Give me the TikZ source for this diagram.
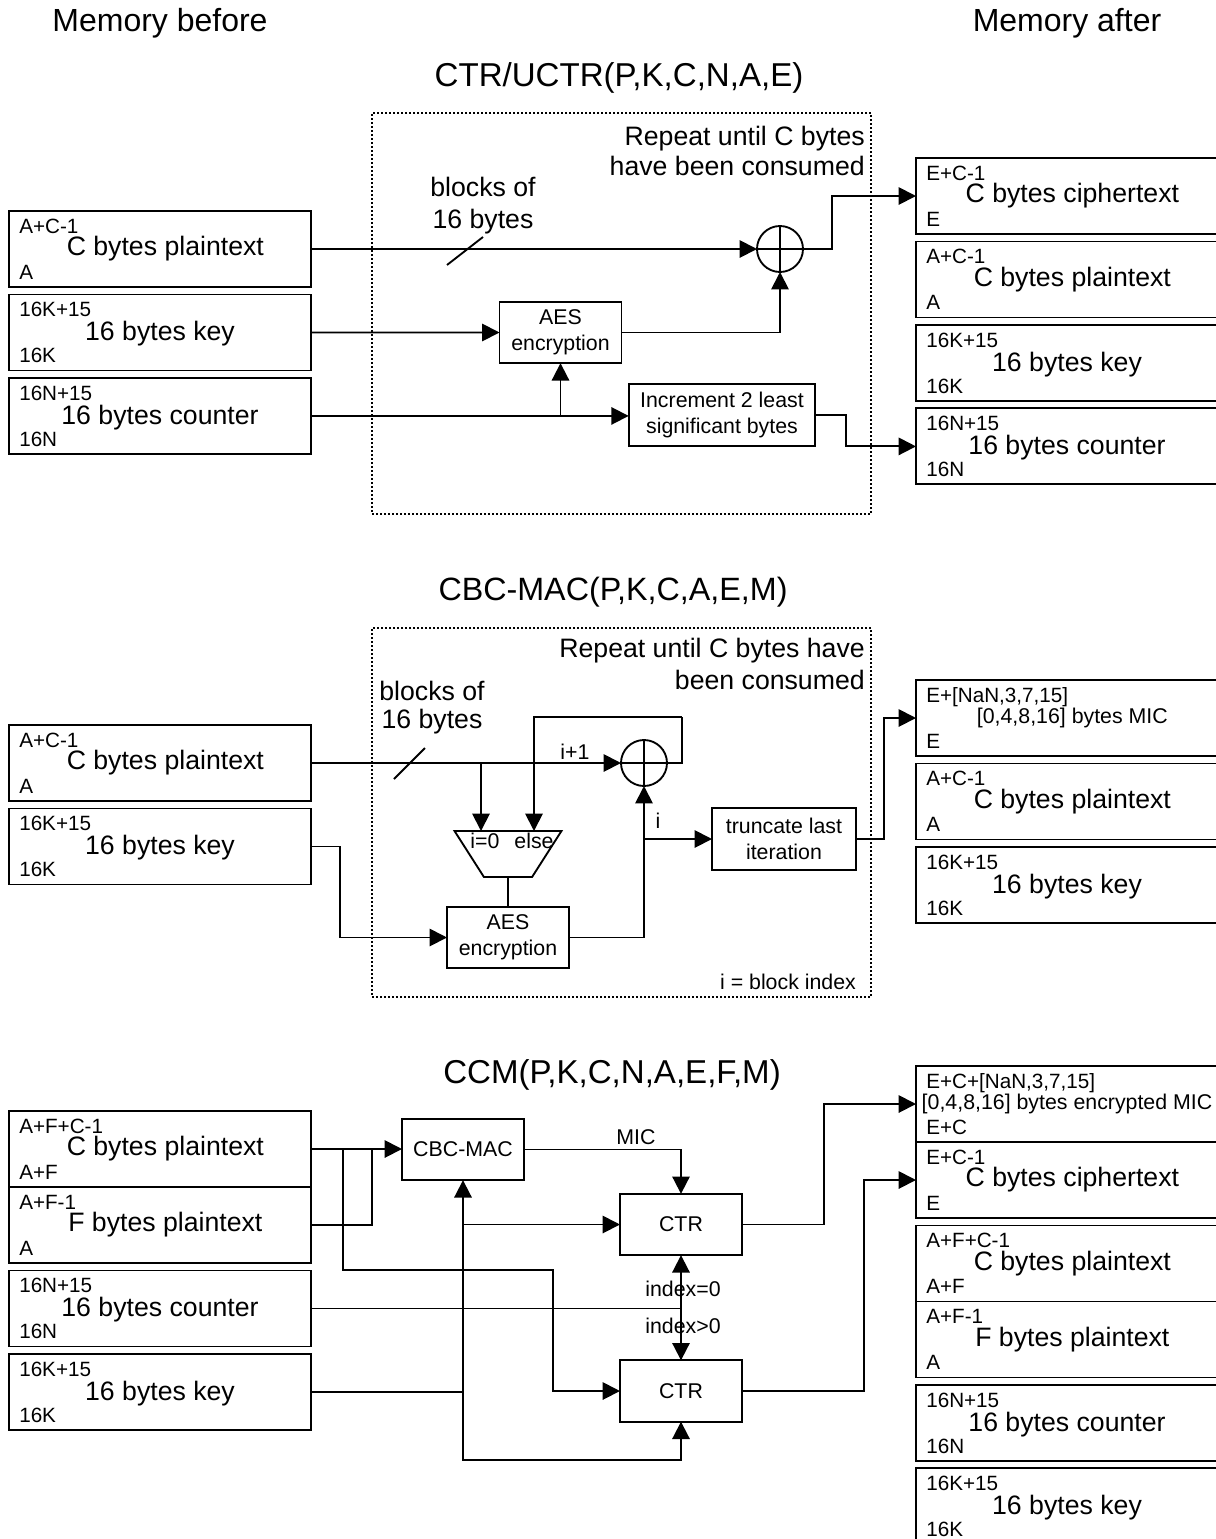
\documentclass[tikz,border=0pt]{standalone}
\usepackage{fontspec}
\setmainfont{Liberation Sans}
\usetikzlibrary{arrows.meta, shapes.geometric, positioning}
\newcommand{\nudge}{\hspace*{8pt}}

\begin{document}
\begin{tikzpicture}[
    x=0.75pt, y=-0.75pt,
    node distance=5.6pt,
    headline/.style={inner sep=0pt, font=\fontsize{24}{28}\selectfont},
    note/.style={inner sep=0pt, align=right, font=\fontsize{20}{24}\selectfont},
    small/.style={inner sep=0pt, font=\fontsize{16}{19.5}\selectfont},
    memlab/.style={inner sep=0pt, font=\fontsize{15.5}{18}\selectfont},
    memhi/.style={label={[memlab, anchor=north west, xshift=7.5pt, yshift=-5.8pt]north west:{#1}}},
    memlo/.style={label={[memlab, anchor=south west, xshift=7.5pt, yshift=5.5pt]south west:{#1}}},
    memory/.style={draw, line width=1.4pt, inner sep=0pt, outer sep=0pt, minimum width=226.5pt,
                   minimum height=57pt, font=\fontsize{20}{24}\selectfont},
    lowtext/.style={text depth=2pt},
    opbox/.style={draw, line width=1.4pt, inner sep=0pt, outer sep=0pt, minimum width=91.5pt,
                  minimum height=46pt, align=center, font=\fontsize{16}{19.5}\selectfont},
    repeatbox/.style={draw, dash pattern=on 1.5pt off 1.5pt, line width=1pt, minimum width=374.25pt, inner sep=0pt},
    xorop/.style={draw, circle, line width=1.4pt, inner sep=0pt, outer sep=0pt, minimum size=34.5pt,
                  path picture={\draw[line width=1.4pt] (path picture bounding box.north) -- (path picture bounding box.south)
                                (path picture bounding box.west) -- (path picture bounding box.east);}},
    muxbox/.style={draw, trapezium, trapezium stretches=true, shape border rotate=180, line width=1.4pt,
                   trapezium left angle=60, trapezium right angle=60, inner sep=0pt, outer sep=0pt,
                   minimum width=80.25pt, minimum height=34.5pt},
    ln/.style={line width=1.4pt},
    ar/.style={-{Triangle[length=13pt, width=13pt]}, line width=1.4pt}
]
\useasboundingbox (0,0) rectangle (1215,1539);
\node[headline] (before) at (160,23) {Memory before};
\node[headline] (after) at (1067,23) {Memory after};

% CTR section
\node[headline, font=\fontsize{24.8}{28}\selectfont] (ctrhead) at (619,78) {CTR/UCTR(P,K,C,N,A,E)};
\node[repeatbox, minimum height=300.75pt] (loopa) at (621.5,313.5) {};
\node[note, anchor=east, font=\fontsize{20}{22.5}\selectfont] (repa) at (865,151) {Repeat until C bytes\\have been consumed};
\node[note, align=center] (blka) at (483,206) {blocks of\\16 bytes};
% memory before
\node[memory, memhi={A+C-1}, memlo={A}] (pla) at (160,249) {\nudge C bytes plaintext};
\node[memory, lowtext, memhi={16K+15}, memlo={16K}, below=of pla] (keya) {16 bytes key};
\node[memory, lowtext, memhi={16N+15}, memlo={16N}, below=of keya] (cnta) {16 bytes counter};
% memory after
\node[memory, memhi={E+C-1}, memlo={E}] (ciphb) at (1067,196) {\nudge C bytes ciphertext};
\node[memory, memhi={A+C-1}, memlo={A}, below=of ciphb] (plb) {\nudge C bytes plaintext};
\node[memory, lowtext, memhi={16K+15}, memlo={16K}, below=of plb] (keyb) {16 bytes key};
\node[memory, lowtext, memhi={16N+15}, memlo={16N}, below=of keyb] (cntb) {16 bytes counter};
% operations
\node[xorop] (xora) at (780,249) {};
\node[opbox] (aesa) at (560.5,332.5) {AES\\encryption};
\node[opbox, minimum width=140pt] (inca) at (722,415) {Increment 2 least\\significant bytes};
\coordinate (slasha1) at (447,265);
\coordinate (slasha2) at (483,237);
\draw[ln] (slasha1) -- (slasha2);
\draw[ar] (pla.east) -- (xora.west);
\draw[ar] (keya.east) -- (aesa.west);
\draw[ar] (aesa.east) -| (xora.south);
\draw[ar] (cnta.east) -- (cnta.east -| inca.west);
\draw[ar] (cnta.east -| aesa.south) -- (aesa.south);
\draw[ar] (xora.east) -- ++(29,0) |- (ciphb.west);
\draw[ar] (inca.east) -- ++(31,0) |- (cntb.west);

% CBC-MAC section
\node[headline, font=\fontsize{24.2}{28}\selectfont] (machead) at (613,592) {CBC-MAC(P,K,C,A,E,M)};
\node[repeatbox, minimum height=276.75pt] (loopb) at (621.5,812.5) {};
\node[note, anchor=east] (repb) at (865,664) {Repeat until C bytes have\\been consumed};
\node[note, align=center, font=\fontsize{20}{21}\selectfont] (blkb) at (432,708) {blocks of\\16 bytes};
\node[small] (idxb) at (788,982) {i = block index};
\node[memory, memhi={A+C-1}, memlo={A}] (plc) at (160,763) {\nudge C bytes plaintext};
\node[memory, lowtext, memhi={16K+15}, memlo={16K}, below=of plc] (keyc) {16 bytes key};
\node[memory, memhi={E+[NaN,3,7,15]}, memlo={E}, font=\fontsize{16}{19.5}\selectfont] (micd) at (1067,718) {\nudge [0,4,8,16] bytes MIC};
\node[memory, memhi={A+C-1}, memlo={A}, below=of micd] (pld) {\nudge C bytes plaintext};
\node[memory, lowtext, memhi={16K+15}, memlo={16K}, below=of pld] (keyd) {16 bytes key};
\node[xorop] (xorb) at (644,763) {};
\node[muxbox] (mux) at (508,854) {\phantom{x}};
\node[small] (muxzero) at (485,841) {i=0};
\node[small] (muxelse) at (534,841) {else};
\node[opbox] (aesb) at (508,937.5) {AES\\encryption};
\node[opbox, minimum width=108pt] (trunc) at (784,839) {truncate last\\iteration};
\node[small] (iplus) at (575,752) {i+1};
\node[small] (iout) at (658,821) {i};
\coordinate (slashb1) at (394,779);
\coordinate (slashb2) at (425,748);
\coordinate (inzero) at (481,831);
\coordinate (inelse) at (534,831);
\coordinate (fbtop) at (682,717);
\draw[ln] (slashb1) -- (slashb2);
\draw[ar] (plc.east) -- (xorb.west);
\draw[ar] (plc.east -| inzero) -- (inzero);
\draw[ln] (xorb.east) -| (fbtop);
\draw[ar] (fbtop) -| (inelse);
\draw[ln] (mux.south) -- (aesb.north);
\draw[ar] (keyc.east) -- ++(29,0) |- (aesb.west);
\draw[ar] (aesb.east) -| (xorb.south);
\draw[ar] (trunc.west -| xorb.south) -- (trunc.west);
\draw[ar] (trunc.east) -- ++(28,0) |- (micd.west);

% CCM section
\node[headline, font=\fontsize{24.8}{28}\selectfont] (ccmhead) at (612,1075) {CCM(P,K,C,N,A,E,F,M)};
\node[memory, memhi={A+F+C-1}, memlo={A+F}] (ple) at (160,1149) {\nudge C bytes plaintext};
\node[memory, memhi={A+F-1}, memlo={A}, below=0pt of ple] (fpe) {\nudge F bytes plaintext};
\node[memory, lowtext, memhi={16N+15}, memlo={16N}, below=of fpe] (cnte) {16 bytes counter};
\node[memory, lowtext, memhi={16K+15}, memlo={16K}, below=of cnte] (keye) {16 bytes key};
\node[memory, memhi={E+C+[NaN,3,7,15]}, memlo={E+C}, font=\fontsize{16}{19.5}\selectfont] (micf) at (1067,1104) {[0,4,8,16] bytes encrypted MIC};
\node[memory, memhi={E+C-1}, memlo={E}, below=0pt of micf] (ciphf) {\nudge C bytes ciphertext};
\node[memory, memhi={A+F+C-1}, memlo={A+F}, below=of ciphf] (plf) {\nudge C bytes plaintext};
\node[memory, memhi={A+F-1}, memlo={A}, below=0pt of plf] (fpf) {\nudge F bytes plaintext};
\node[memory, lowtext, memhi={16N+15}, memlo={16N}, below=of fpf] (cntf) {16 bytes counter};
\node[memory, lowtext, memhi={16K+15}, memlo={16K}, below=of cntf] (keyf) {16 bytes key};
\node[opbox] (cbc) at (463,1149.5) {CBC-MAC};
\node[opbox] (ctra) at (681,1224.5) {CTR};
\node[opbox] (ctrb) at (681,1391) {CTR};
\node[small] (miclab) at (636,1137) {MIC};
\node[small] (idxzero) at (683,1289) {index=0};
\node[small] (idxmore) at (683,1326) {index>0};
\coordinate (fjoin) at (372,1149);
\coordinate (ptbranch) at (343,1149);
\coordinate (ptbend) at (553,1270);
\coordinate (keyloop) at (463,1460);
\draw[ar] (ple.east) -- (ple.east -| cbc.west);
\draw[ln] (fpe.east) -| (fjoin);
\draw[ar] (ptbranch) |- (ptbend) |- (ctrb.west);
\draw[ln] (keye.east) -- (keye.east -| cbc.south);
\draw[ar] (keye.east -| cbc.south) -- (cbc.south);
\draw[ar] (ctra.west -| cbc.south) -- (ctra.west);
\draw[ar] (keye.east -| cbc.south) -- (keyloop) -| (ctrb.south);
\draw[ln] (cnte.east) -- (cnte.east -| ctra.south);
\foreach \a in {ctra.south, ctrb.north}
   \draw[ar] (cnte.east -| ctra.south) -- (\a);
\draw[ar] (cbc.east) -| (ctra.north);
\draw[ar] (ctra.east) -- ++(82,0) |- (micf.west);
\draw[ar] (ctrb.east) -- ++(122,0) |- (ciphf.west);
\end{tikzpicture}
\end{document}
